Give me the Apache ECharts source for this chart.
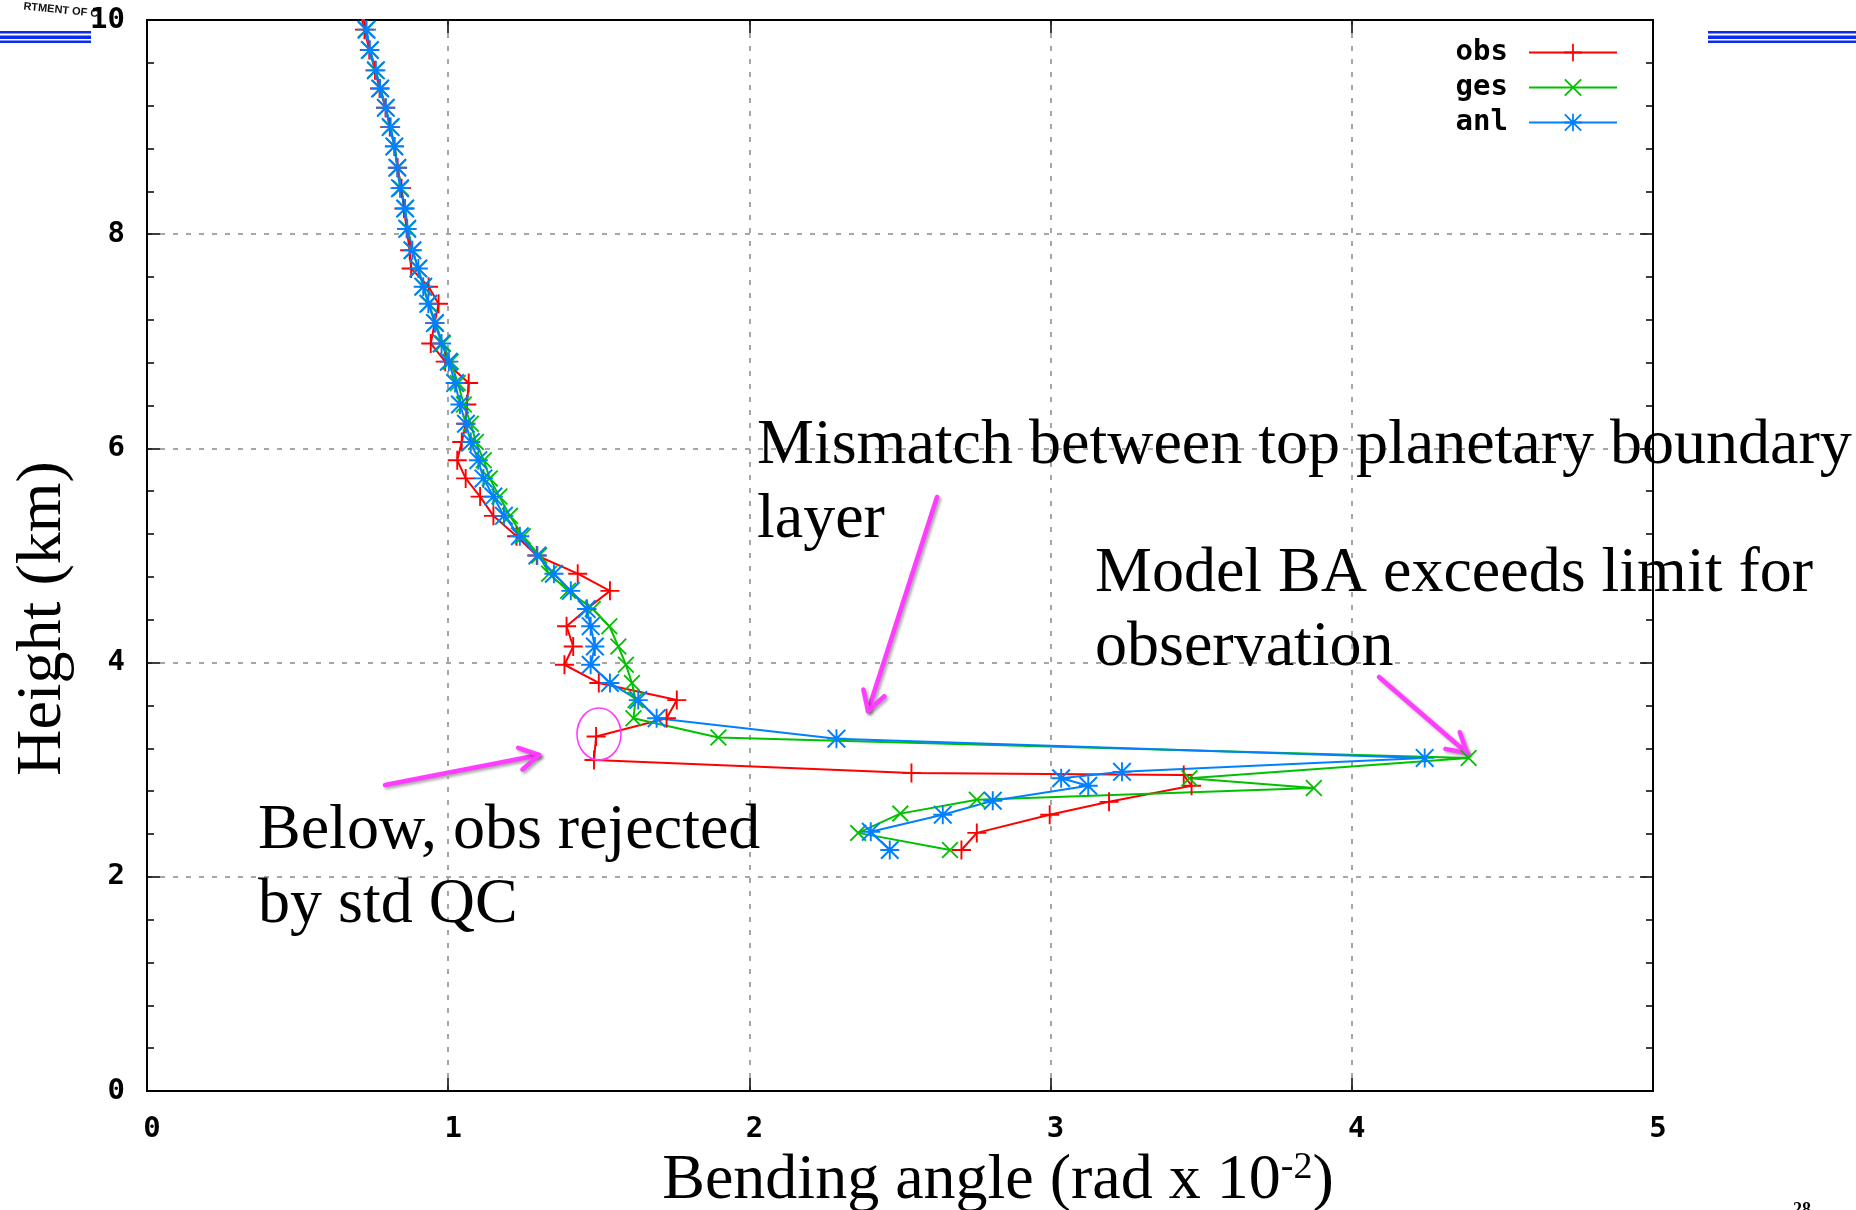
<!DOCTYPE html>
<html>
<head>
<meta charset="utf-8">
<script src="https://cdn.jsdelivr.net/npm/echarts@6/dist/echarts.min.js"></script>
<style>
  html, body { margin: 0; padding: 0; background: #ffffff; }
  #chart { width: 1856px; height: 1210px; }
</style>
</head>
<body>
<div id="chart"></div>
<script>
// Bending-angle profiles, each point is [bending angle (rad x 1e-2), height (km)]
const obsProfile = [
  [0.705, 10.10], [0.722, 9.91], [0.738, 9.72], [0.757, 9.53], [0.772, 9.36],
  [0.792, 9.18], [0.806, 9.00], [0.822, 8.82], [0.832, 8.62], [0.845, 8.43],
  [0.853, 8.24], [0.862, 8.05], [0.872, 7.85], [0.877, 7.68], [0.935, 7.51],
  [0.968, 7.35], [0.955, 7.17], [0.942, 6.98], [0.990, 6.81], [1.068, 6.61],
  [1.062, 6.41], [1.058, 6.23], [1.045, 6.06], [1.030, 5.89], [1.058, 5.72],
  [1.106, 5.55], [1.150, 5.37], [1.227, 5.18], [1.294, 5.00], [1.430, 4.83],
  [1.537, 4.67], [1.460, 4.50], [1.393, 4.34], [1.415, 4.15], [1.386, 3.98],
  [1.500, 3.81], [1.759, 3.65], [1.725, 3.48], [1.491, 3.31], [1.484, 3.09],
  [2.538, 2.97], [3.442, 2.95], [3.468, 2.85], [3.194, 2.70], [2.997, 2.58],
  [2.755, 2.41], [2.704, 2.25]
];
const gesProfile = [
  [0.712, 10.10], [0.727, 9.91], [0.741, 9.72], [0.758, 9.53], [0.776, 9.36],
  [0.792, 9.18], [0.808, 9.00], [0.822, 8.82], [0.833, 8.62], [0.843, 8.43],
  [0.857, 8.24], [0.866, 8.05], [0.882, 7.85], [0.900, 7.68], [0.918, 7.51],
  [0.936, 7.35], [0.958, 7.17], [0.982, 6.98], [1.008, 6.81], [1.032, 6.61],
  [1.052, 6.41], [1.075, 6.23], [1.092, 6.06], [1.118, 5.89], [1.138, 5.72],
  [1.170, 5.55], [1.205, 5.37], [1.248, 5.18], [1.302, 5.00], [1.335, 4.83],
  [1.398, 4.67], [1.480, 4.50], [1.535, 4.34], [1.565, 4.15], [1.590, 3.98],
  [1.610, 3.81], [1.622, 3.65], [1.615, 3.48], [1.897, 3.30], [4.388, 3.11],
  [3.461, 2.92], [3.874, 2.83], [2.755, 2.72], [2.501, 2.59], [2.361, 2.41],
  [2.666, 2.25]
];
const anlProfile = [
  [0.712, 10.10], [0.729, 9.91], [0.740, 9.72], [0.760, 9.53], [0.774, 9.36],
  [0.793, 9.18], [0.809, 9.00], [0.821, 8.82], [0.831, 8.62], [0.840, 8.43],
  [0.857, 8.24], [0.864, 8.05], [0.881, 7.85], [0.901, 7.68], [0.917, 7.51],
  [0.934, 7.35], [0.956, 7.17], [0.978, 6.98], [1.002, 6.81], [1.023, 6.61],
  [1.039, 6.41], [1.059, 6.23], [1.075, 6.06], [1.100, 5.89], [1.117, 5.72],
  [1.150, 5.55], [1.185, 5.37], [1.238, 5.18], [1.296, 5.00], [1.351, 4.83],
  [1.407, 4.67], [1.460, 4.50], [1.473, 4.34], [1.487, 4.15], [1.473, 3.98],
  [1.537, 3.81], [1.631, 3.65], [1.692, 3.48], [2.289, 3.29], [4.242, 3.11],
  [3.237, 2.98], [3.035, 2.92], [3.125, 2.85], [2.808, 2.71], [2.642, 2.58],
  [2.403, 2.42], [2.466, 2.25]
];

const seriesNames = ['obs', 'ges', 'anl'];
const angleTicks = [0, 1, 2, 3, 4, 5];
const heightTicks = [0, 2, 4, 6, 8, 10];

// gnuplot-style point glyphs: plus, cross and star, drawn as filled outlines
const PLUS_PATH = 'M9,0h2v20h-2z M0,9h20v2h-20z';
const CROSS_PATH = 'M1.5,0L10,8.5L18.5,0L20,1.5L11.5,10L20,18.5L18.5,20L10,11.5L1.5,20L0,18.5L8.5,10L0,1.5Z';
const SYMBOLS = {
  obs: 'path://' + PLUS_PATH,
  ges: 'path://' + CROSS_PATH,
  anl: 'path://' + PLUS_PATH + ' ' + CROSS_PATH
};
const COLORS = { obs: '#ff0000', ges: '#00c000', anl: '#0080ff' };
const PROFILES = { obs: obsProfile, ges: gesProfile, anl: anlProfile };

const SERIF = '"Liberation Serif", "Times New Roman", serif';
const MONO = '"DejaVu Sans Mono", monospace';
const MAGENTA = '#ff3cff';
const GRID_DASH = { color: '#a6a6a6', width: 2, type: [5, 8] };

const chart = echarts.init(document.getElementById('chart'), null, { renderer: 'canvas' });

function makeSeries(name) {
  return {
    name: name,
    type: 'line',
    data: PROFILES[name],
    xAxisIndex: 0,
    yAxisIndex: 0,
    symbol: SYMBOLS[name],
    symbolSize: name === 'ges' ? 17 : 19,
    showSymbol: true,
    showAllSymbol: true,
    clip: true,
    lineStyle: { color: COLORS[name], width: 2 },
    itemStyle: { color: COLORS[name], borderWidth: 0 },
    emphasis: { disabled: true },
    animation: false
  };
}

// Arrow as a shaft plus an open chevron head
function arrow(x1, y1, x2, y2) {
  const dx = x2 - x1, dy = y2 - y1, len = Math.hypot(dx, dy);
  const ux = -dx / len, uy = -dy / len;
  const head = 22, ang = Math.PI / 6;
  const arm = (t) => [x2 + head * (ux * Math.cos(t) - uy * Math.sin(t)),
                      y2 + head * (ux * Math.sin(t) + uy * Math.cos(t))];
  const stroke = {
    stroke: MAGENTA, lineWidth: 4.5, lineCap: 'round', lineJoin: 'round', fill: null,
    shadowColor: 'rgba(0,0,0,0.35)', shadowBlur: 3, shadowOffsetX: 2, shadowOffsetY: 2
  };
  return {
    type: 'group',
    z: 100,
    children: [
      { type: 'line', shape: { x1: x1, y1: y1, x2: x2, y2: y2 }, style: stroke },
      { type: 'polyline', shape: { points: [arm(ang), [x2, y2], arm(-ang)] }, style: stroke }
    ]
  };
}

function note(x, y, text) {
  return {
    type: 'text', x: x, y: y, z: 100,
    style: {
      text: text, fill: '#000', fontFamily: SERIF, fontSize: 64,
      lineHeight: 74, align: 'left', verticalAlign: 'top'
    }
  };
}

const option = {
  backgroundColor: '#ffffff',
  animation: false,
  grid: {
    left: 147, right: 203, top: 20, bottom: 119,
    show: true, borderColor: '#000', borderWidth: 2, backgroundColor: 'transparent',
    containLabel: false,
    outerBoundsMode: 'none'
  },
  legend: {
    data: seriesNames,
    orient: 'vertical',
    right: 233,
    top: 33,
    align: 'right',
    itemWidth: 88,
    itemHeight: 22,
    itemGap: 6,
    selectedMode: false,
    textStyle: {
      fontFamily: MONO, fontWeight: 'bold', fontSize: 29, color: '#000',
      padding: [0, 16, 0, 0]
    }
  },
  xAxis: [
    {
      type: 'value',
      position: 'bottom',
      min: angleTicks[0],
      max: angleTicks[angleTicks.length - 1],
      interval: angleTicks[1] - angleTicks[0],
      name: 'Bending angle (rad x 10{sup|-2})',
      nameLocation: 'middle',
      nameGap: 54,
      nameTextStyle: {
        fontFamily: SERIF, fontSize: 64, lineHeight: 64, color: '#000',
        padding: [0, 0, 0, 196],
        rich: {
          sup: { fontFamily: SERIF, fontSize: 38, lineHeight: 48, verticalAlign: 'top', color: '#000' }
        }
      },
      axisLine: { show: true, onZero: false, lineStyle: { color: '#000', width: 2 } },
      axisTick: { show: true, inside: true, length: 13, lineStyle: { color: '#000', width: 1.5 } },
      axisLabel: {
        show: true, margin: 24, color: '#000', fontFamily: MONO, fontWeight: 'bold', fontSize: 29,
        padding: [0, 0, 0, 10], hideOverlap: false, showMinLabel: true, showMaxLabel: true,
        formatter: (v) => String(v)
      },
      splitLine: { show: true, lineStyle: GRID_DASH },
      minorTick: { show: false },
      minorSplitLine: { show: false }
    },
    {
      type: 'value',
      position: 'top',
      min: angleTicks[0],
      max: angleTicks[angleTicks.length - 1],
      interval: angleTicks[1] - angleTicks[0],
      axisLine: { show: true, onZero: false, lineStyle: { color: '#000', width: 2 } },
      axisTick: { show: true, inside: true, length: 13, lineStyle: { color: '#000', width: 1.5 } },
      axisLabel: { show: false },
      splitLine: { show: false }
    }
  ],
  yAxis: [
    {
      type: 'value',
      position: 'left',
      min: heightTicks[0],
      max: heightTicks[heightTicks.length - 1],
      interval: heightTicks[1] - heightTicks[0],
      name: 'Height (km)',
      nameLocation: 'middle',
      nameGap: 72,
      nameTextStyle: {
        fontFamily: SERIF, fontSize: 64, lineHeight: 64, color: '#000',
        padding: [0, 126, 0, 0]
      },
      axisLine: { show: true, onZero: false, lineStyle: { color: '#000', width: 2 } },
      axisTick: { show: true, inside: true, length: 13, lineStyle: { color: '#000', width: 1.5 } },
      minorTick: { show: true, splitNumber: 5, length: 7, lineStyle: { color: '#000', width: 1.5 } },
      axisLabel: {
        show: true, margin: 22, color: '#000', fontFamily: MONO, fontWeight: 'bold', fontSize: 29,
        hideOverlap: false, showMinLabel: true, showMaxLabel: true,
        formatter: (v) => String(v)
      },
      splitLine: { show: true, lineStyle: GRID_DASH },
      minorSplitLine: { show: false }
    },
    {
      type: 'value',
      position: 'right',
      min: heightTicks[0],
      max: heightTicks[heightTicks.length - 1],
      interval: heightTicks[1] - heightTicks[0],
      axisLine: { show: true, onZero: false, lineStyle: { color: '#000', width: 2 } },
      axisTick: { show: true, inside: true, length: 13, lineStyle: { color: '#000', width: 1.5 } },
      minorTick: { show: true, splitNumber: 5, length: 7, lineStyle: { color: '#000', width: 1.5 } },
      axisLabel: { show: false },
      splitLine: { show: false }
    }
  ],
  series: seriesNames.map(makeSeries),
  graphic: [
    // slide header rules
    { type: 'rect', shape: { x: 0, y: 31, width: 91, height: 2.5 }, style: { fill: '#0a2cf0' } },
    { type: 'rect', shape: { x: 0, y: 35.5, width: 91, height: 3.5 }, style: { fill: '#0a2cf0' } },
    { type: 'rect', shape: { x: 0, y: 40.5, width: 91, height: 2.5 }, style: { fill: '#0a2cf0' } },
    { type: 'rect', shape: { x: 1708, y: 31, width: 148, height: 2.5 }, style: { fill: '#0a2cf0' } },
    { type: 'rect', shape: { x: 1708, y: 35.5, width: 148, height: 3.5 }, style: { fill: '#0a2cf0' } },
    { type: 'rect', shape: { x: 1708, y: 40.5, width: 148, height: 2.5 }, style: { fill: '#0a2cf0' } },
    { type: 'text', x: 24, y: 1, rotation: -0.1,
      style: { text: 'RTMENT OF C', fill: '#111', fontFamily: '"Liberation Sans", sans-serif', fontSize: 11, fontWeight: 'bold', verticalAlign: 'top' } },
    { type: 'text', x: 1793, y: 1201,
      style: { text: '28', fill: '#000', fontFamily: SERIF, fontSize: 18, fontWeight: 'bold', verticalAlign: 'top' } },

    // annotations
    note(757, 409, 'Mismatch between top planetary boundary\nlayer'),
    note(1095, 537, 'Model BA exceeds limit for\nobservation'),
    note(258, 794, 'Below, obs rejected\nby std QC'),
    arrow(937, 497, 868, 711),
    arrow(1379, 677, 1467, 753),
    arrow(385, 785, 539, 755),
    {
      type: 'ellipse', z: 100,
      shape: { cx: 599, cy: 734, rx: 22, ry: 26 },
      style: { fill: null, stroke: MAGENTA, lineWidth: 1.6 }
    }
  ]
};

chart.setOption(option);
</script>
</body>
</html>
